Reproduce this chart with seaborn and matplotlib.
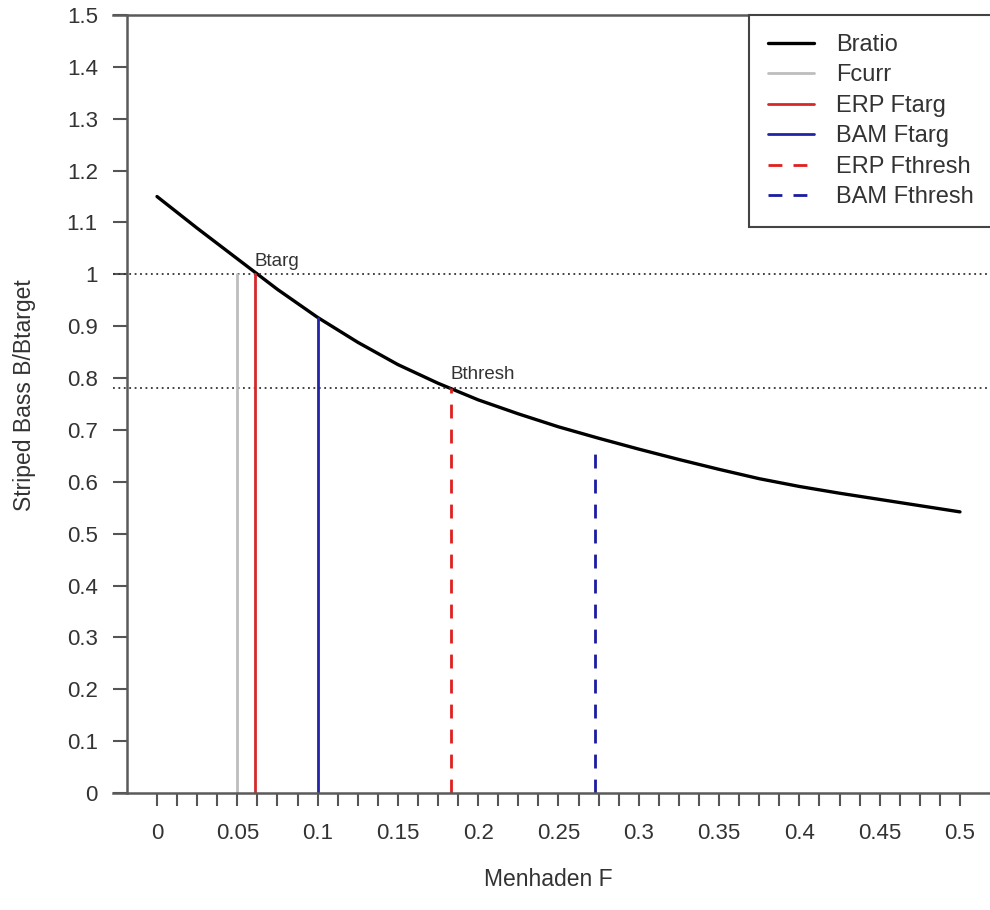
import pandas as pd
import seaborn as sns
import matplotlib.pyplot as plt

# Menhaden F grid and the striped bass B/Btarget curve
f_grid = [0.0, 0.025, 0.05, 0.075, 0.1, 0.125, 0.15, 0.175, 0.2, 0.225, 0.25,
          0.275, 0.3, 0.325, 0.35, 0.375, 0.4, 0.425, 0.45, 0.475, 0.5]
b_ratio = [1.150, 1.089, 1.030, 0.971, 0.917, 0.869, 0.826, 0.790, 0.758, 0.731, 0.706,
           0.684, 0.663, 0.643, 0.624, 0.606, 0.591, 0.578, 0.566, 0.554, 0.542]

# reference points (F value, height the vertical line reaches)
ref_names = ['Fcurr', 'ERP Ftarg', 'BAM Ftarg', 'ERP Fthresh', 'BAM Fthresh']
ref_f = [0.050, 0.061, 0.100, 0.183, 0.273]
ref_top = [1.000, 1.000, 0.915, 0.780, 0.665]
ref_colors = ['#bdbdbd', '#d42a2a', '#2323a8', '#e02020', '#1c1ca0']
ref_styles = ['-', '-', '-', (0, (5, 4)), (0, (5, 4))]

b_targ = 1.0
b_thresh = 0.78

x_major = [0, 0.05, 0.1, 0.15, 0.2, 0.25, 0.3, 0.35, 0.4, 0.45, 0.5]
x_labels = ['0', '0.05', '0.1', '0.15', '0.2', '0.25', '0.3', '0.35', '0.4', '0.45', '0.5']
x_minor = [i * 0.0125 for i in range(41)]
y_ticks = [i / 10 for i in range(16)]
y_labels = ['0', '0.1', '0.2', '0.3', '0.4', '0.5', '0.6', '0.7', '0.8', '0.9',
            '1', '1.1', '1.2', '1.3', '1.4', '1.5']

sns.set_style('white')
plt.rcParams['font.family'] = ['Liberation Sans', 'DejaVu Sans']

fig = plt.figure(figsize=(9.9, 9.1), dpi=100)
ax = fig.add_axes([113 / 990, (910 - 793) / 910, 877 / 990, 778 / 910])

df = pd.DataFrame({'F': f_grid, 'Bratio': b_ratio})
sns.lineplot(data=df, x='F', y='Bratio', color='black', lw=2.4, label='Bratio', ax=ax)

# dotted reference levels
ax.axhline(b_targ, color='#333333', lw=1.3, ls=(0, (1, 2)))
ax.axhline(b_thresh, color='#333333', lw=1.3, ls=(0, (1, 2)))

for name, fx, top, col, st in zip(ref_names, ref_f, ref_top, ref_colors, ref_styles):
    ax.plot([fx, fx], [0, top], color=col, lw=2.0, ls=st, label=name)

ax.text(ref_f[1], b_targ + 0.008, 'Btarg', fontsize=13.5, color='#333333',
        ha='left', va='bottom')
ax.text(ref_f[3], b_thresh + 0.01, 'Bthresh', fontsize=13.5, color='#333333',
        ha='left', va='bottom')

ax.set_xlim(-0.0274, 0.5187)
ax.set_ylim(0, 1.5)
ax.set_xlabel('')
ax.set_ylabel('')

ax.spines['left'].set_position(('data', -0.0187))
ax.spines['right'].set_visible(False)
for s in ['left', 'bottom', 'top']:
    ax.spines[s].set_color('#5a5a5a')
    ax.spines[s].set_linewidth(1.8)

ax.set_xticks(x_major)
ax.set_xticklabels(x_labels)
ax.set_xticks(x_minor, minor=True)
ax.set_yticks(y_ticks)
ax.set_yticklabels(y_labels)
ax.tick_params(axis='x', which='both', direction='out', length=9.5, width=1.5,
               color='#555555', pad=12, labelsize=16, labelcolor='#333333', bottom=True)
ax.tick_params(axis='y', direction='out', length=10, width=1.5, color='#555555',
               pad=11, labelsize=16, labelcolor='#333333', left=True)

leg = ax.legend(loc='upper left', bbox_to_anchor=(749 / 990, 1 - 15 / 910),
                bbox_transform=fig.transFigure, frameon=True, fancybox=False,
                edgecolor='#444444', fontsize=17, handlelength=1.95, handletextpad=0.95,
                borderpad=0.8, labelspacing=0.36, borderaxespad=0, framealpha=1)
leg.get_frame().set_linewidth(1.5)
for t in leg.get_texts():
    t.set_color('#333333')

fig.text(548 / 990, 1 - 880 / 910, 'Menhaden F', fontsize=16.5, color='#333333',
         ha='center', va='center')
fig.text(25 / 990, 1 - 395 / 910, 'Striped Bass B/Btarget', fontsize=16.5,
         color='#333333', ha='center', va='center', rotation=90)

fig.savefig('out.png', dpi=100)
